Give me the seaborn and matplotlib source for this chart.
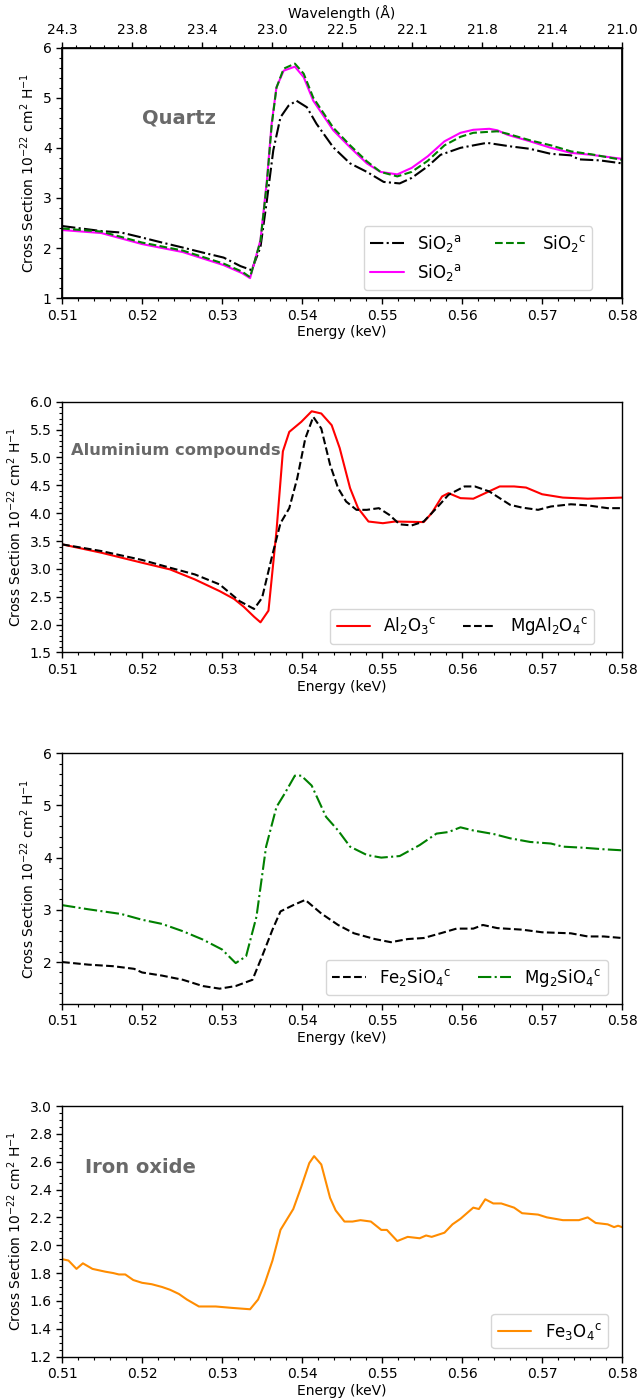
import numpy as np
import pandas as pd
import seaborn as sns
import matplotlib.pyplot as plt
from matplotlib.ticker import AutoMinorLocator, MultipleLocator

sns.set_theme(style='ticks')
plt.rcParams['font.family'] = ['DejaVu Sans']
plt.rcParams['axes.edgecolor'] = 'black'
plt.rcParams['xtick.color'] = 'black'
plt.rcParams['ytick.color'] = 'black'
plt.rcParams['axes.labelcolor'] = 'black'
plt.rcParams['text.color'] = 'black'

# %% data (energy in keV, cross section in 1e-22 cm^2 H^-1)

# Quartz
e_sio2_a1 = [0.510, 0.5149, 0.5174, 0.520, 0.5225, 0.5251, 0.5276, 0.5302, 0.5323, 0.5337,
             0.5348, 0.5356, 0.5364, 0.5373, 0.5383, 0.5393, 0.5406, 0.5418, 0.5439, 0.546,
             0.5481, 0.5502, 0.5522, 0.5537, 0.5557, 0.5573, 0.5598, 0.5631, 0.566, 0.5685,
             0.5711, 0.5736, 0.5746, 0.5772, 0.580]
v_sio2_a1 = [2.44, 2.34, 2.31, 2.21, 2.11, 2.01, 1.91, 1.81, 1.64, 1.56,
             2.02, 2.95, 3.95, 4.61, 4.84, 4.94, 4.81, 4.48, 4.01, 3.69,
             3.52, 3.32, 3.29, 3.40, 3.63, 3.86, 4.00, 4.10, 4.03, 3.98,
             3.88, 3.85, 3.77, 3.75, 3.69]

e_sio2 = [0.510, 0.5149, 0.520, 0.5251, 0.5302, 0.5325, 0.5335, 0.5348, 0.5356, 0.5362,
          0.5368, 0.5377, 0.5391, 0.5402, 0.5414, 0.5439, 0.546, 0.5481, 0.5498, 0.5519,
          0.5537, 0.5557, 0.5578, 0.5598, 0.5614, 0.5634, 0.5644, 0.5657, 0.5685, 0.5711,
          0.5736, 0.5762, 0.580]
v_sio2_a2 = [2.36, 2.30, 2.08, 1.92, 1.66, 1.50, 1.40, 2.16, 3.35, 4.49,
             5.21, 5.54, 5.62, 5.41, 4.94, 4.35, 4.01, 3.69, 3.52, 3.47,
             3.60, 3.83, 4.13, 4.30, 4.36, 4.38, 4.35, 4.26, 4.13, 4.00,
             3.90, 3.86, 3.78]
v_sio2_c = [2.39, 2.33, 2.11, 1.95, 1.69, 1.53, 1.42, 2.14, 3.30, 4.45,
            5.20, 5.58, 5.68, 5.48, 5.00, 4.40, 4.05, 3.73, 3.52, 3.43,
            3.52, 3.74, 4.05, 4.22, 4.30, 4.32, 4.33, 4.28, 4.15, 4.05,
            3.93, 3.87, 3.76]

# Aluminium compounds
e_al2o3 = [0.510, 0.5149, 0.520, 0.5235, 0.5266, 0.5297, 0.5315, 0.5327, 0.5340, 0.5348,
           0.5358, 0.5368, 0.5376, 0.5384, 0.5399, 0.5412, 0.5424, 0.5437, 0.5447, 0.546,
           0.547, 0.5483, 0.5501, 0.5516, 0.5552, 0.5562, 0.5575, 0.5583, 0.5598, 0.5614,
           0.5629, 0.5647, 0.5665, 0.568, 0.570, 0.5726, 0.5757, 0.580]
v_al2o3 = [3.44, 3.29, 3.11, 2.99, 2.81, 2.60, 2.46, 2.32, 2.14, 2.04,
           2.25, 3.68, 5.11, 5.46, 5.64, 5.83, 5.79, 5.58, 5.17, 4.45,
           4.09, 3.85, 3.82, 3.85, 3.84, 4.00, 4.30, 4.36, 4.27, 4.26,
           4.36, 4.48, 4.48, 4.46, 4.34, 4.28, 4.26, 4.28]

e_mgal2o4 = [0.510, 0.5149, 0.520, 0.5235, 0.5266, 0.5297, 0.5322, 0.534, 0.535, 0.5363,
             0.5373, 0.5384, 0.5394, 0.5404, 0.5414, 0.5424, 0.5435, 0.5445, 0.5455, 0.5468,
             0.5481, 0.5496, 0.5509, 0.5522, 0.5537, 0.5552, 0.5568, 0.5583, 0.5603, 0.5616,
             0.5634, 0.566, 0.5675, 0.5695, 0.5711, 0.5736, 0.5757, 0.5782, 0.580]
v_mgal2o4 = [3.44, 3.32, 3.16, 3.02, 2.90, 2.72, 2.42, 2.28, 2.48, 3.26,
             3.82, 4.09, 4.63, 5.34, 5.73, 5.52, 4.87, 4.45, 4.21, 4.06,
             4.06, 4.09, 3.97, 3.80, 3.78, 3.85, 4.09, 4.33, 4.48, 4.48,
             4.39, 4.15, 4.10, 4.06, 4.12, 4.16, 4.14, 4.09, 4.09]

# Silicates
e_mg2sio4 = [0.510, 0.5133, 0.5174, 0.520, 0.5225, 0.5251, 0.5276, 0.530, 0.5317, 0.533,
             0.5343, 0.5355, 0.5368, 0.5378, 0.5391, 0.5399, 0.5412, 0.543, 0.5445, 0.546,
             0.5481, 0.5499, 0.5522, 0.5547, 0.5568, 0.5583, 0.5598, 0.5614, 0.564, 0.566,
             0.5685, 0.5711, 0.5726, 0.5751, 0.5777, 0.580]
v_mg2sio4 = [3.09, 3.01, 2.92, 2.81, 2.73, 2.59, 2.43, 2.24, 1.98, 2.11,
             2.87, 4.21, 4.97, 5.22, 5.57, 5.57, 5.38, 4.78, 4.52, 4.21,
             4.05, 4.00, 4.03, 4.24, 4.46, 4.49, 4.58, 4.52, 4.45, 4.37,
             4.30, 4.27, 4.21, 4.19, 4.16, 4.14]

e_fe2sio4 = [0.510, 0.5133, 0.5164, 0.5190, 0.520, 0.5225, 0.5251, 0.5276, 0.5297, 0.5317,
             0.5338, 0.535, 0.5363, 0.5373, 0.5389, 0.5404, 0.5424, 0.5445, 0.5465, 0.5491,
             0.5511, 0.5532, 0.5552, 0.5573, 0.5593, 0.5614, 0.5626, 0.5644, 0.5675, 0.570,
             0.5736, 0.5757, 0.5777, 0.580]
v_fe2sio4 = [2.00, 1.95, 1.92, 1.87, 1.80, 1.74, 1.66, 1.54, 1.49, 1.54,
             1.66, 2.11, 2.62, 2.97, 3.09, 3.19, 2.93, 2.71, 2.55, 2.44,
             2.38, 2.44, 2.46, 2.55, 2.64, 2.64, 2.71, 2.65, 2.62, 2.57,
             2.55, 2.49, 2.49, 2.46]

# Iron oxide
e_fe3o4 = [0.510, 0.5108, 0.5118, 0.5126, 0.5138, 0.5154, 0.5164, 0.5171, 0.5179, 0.5189,
           0.520, 0.5212, 0.5225, 0.5235, 0.5246, 0.5256, 0.5271, 0.5292, 0.5312, 0.5335,
           0.5345, 0.5353, 0.5363, 0.5373, 0.5389, 0.5399, 0.5409, 0.5415, 0.5424, 0.5435,
           0.5442, 0.5453, 0.5463, 0.5473, 0.5486, 0.5499, 0.5506, 0.5519, 0.5532, 0.5547,
           0.5555, 0.5562, 0.5578, 0.5588, 0.5598, 0.5614, 0.5621, 0.5629, 0.5639, 0.5649,
           0.5665, 0.5675, 0.5695, 0.5706, 0.5726, 0.5746, 0.5757, 0.5767, 0.5782, 0.579,
           0.5795, 0.580]
v_fe3o4 = [1.90, 1.89, 1.83, 1.87, 1.83, 1.81, 1.80, 1.79, 1.79, 1.75,
           1.73, 1.72, 1.70, 1.68, 1.65, 1.61, 1.56, 1.56, 1.55, 1.54,
           1.61, 1.72, 1.89, 2.11, 2.26, 2.42, 2.59, 2.64, 2.58, 2.34,
           2.25, 2.17, 2.17, 2.18, 2.17, 2.11, 2.11, 2.03, 2.06, 2.05,
           2.07, 2.06, 2.09, 2.15, 2.19, 2.27, 2.26, 2.33, 2.30, 2.30,
           2.27, 2.23, 2.22, 2.20, 2.18, 2.18, 2.20, 2.16, 2.15, 2.13,
           2.14, 2.13]

wave_labels = ['24.3', '23.8', '23.4', '23.0', '22.5', '22.1', '21.8', '21.4', '21.0']

# %% figure

YLABEL = r'Cross Section 10$^{-22}$ cm$^2$ H$^{-1}$'
fig = plt.figure(figsize=(6.4, 14), dpi=100)
bottoms = [0.787, 0.534, 0.283, 0.031]
axes = [fig.add_axes([0.097, b, 0.875, 0.179]) for b in bottoms]


def draw(ax, e, v, color, ls, label):
    sns.lineplot(x=e, y=v, ax=ax, color=color, linestyle=ls, linewidth=1.5,
                 label=label, sort=False, estimator=None)


def style_axis(ax, ylim, ystep, fmt=None):
    ax.set_xlim(0.51, 0.58)
    ax.set_ylim(*ylim)
    ax.yaxis.set_major_locator(MultipleLocator(ystep))
    ax.xaxis.set_major_locator(MultipleLocator(0.01))
    ax.xaxis.set_minor_locator(AutoMinorLocator())
    ax.yaxis.set_minor_locator(AutoMinorLocator())
    if fmt:
        ax.yaxis.set_major_formatter(fmt)
    ax.tick_params(which='major', labelsize=10, length=4, width=1)
    ax.tick_params(which='minor', length=2, width=0.8)
    ax.set_xlabel('Energy (keV)', fontsize=10, labelpad=2)
    ax.set_ylabel(YLABEL, fontsize=10)
    for s in ax.spines.values():
        s.set_linewidth(1)
        s.set_color('black')


# Quartz
ax = axes[0]
draw(ax, e_sio2_a1, v_sio2_a1, 'black', '-.', r'SiO$_2$$^{\rm a}$')
draw(ax, e_sio2, v_sio2_a2, '#ff00ff', '-', r'SiO$_2$$^{\rm a}$')
draw(ax, e_sio2, v_sio2_c, 'green', '--', r'SiO$_2$$^{\rm c}$')
style_axis(ax, (1, 6), 1)
ax.set_yticks([1, 2, 3, 4, 5, 6])
ax.legend(loc='lower right', ncol=2, fontsize=12, bbox_to_anchor=(0.962, 0.0))
ax.text(0.209, 0.72, 'Quartz', transform=ax.transAxes, fontsize=14,
        fontweight='bold', color='dimgray', ha='center', va='center')
top = ax.twiny()
top.set_xlim(0.51, 0.58)
top.set_xticks(np.linspace(0.51, 0.58, len(wave_labels)))
top.set_xticklabels(wave_labels)
top.xaxis.set_minor_locator(AutoMinorLocator(5))
top.tick_params(which='major', labelsize=10, length=4, width=1)
top.tick_params(which='minor', length=2, width=0.8)
top.set_xlabel('Wavelength (Å)', fontsize=10, labelpad=4)

# Aluminium compounds
ax = axes[1]
draw(ax, e_al2o3, v_al2o3, 'red', '-', r'Al$_2$O$_3$$^{\rm c}$')
draw(ax, e_mgal2o4, v_mgal2o4, 'black', '--', r'MgAl$_2$O$_4$$^{\rm c}$')
style_axis(ax, (1.5, 6.0), 0.5, '{x:.1f}')
ax.legend(loc='lower right', ncol=2, fontsize=12, columnspacing=1.6,
          bbox_to_anchor=(0.965, 0.0))
ax.text(0.016, 0.805, 'Aluminium compounds', transform=ax.transAxes, fontsize=11.7,
        fontweight='bold', color='dimgray', ha='left', va='center')

# Silicates
ax = axes[2]
draw(ax, e_fe2sio4, v_fe2sio4, 'black', '--', r'Fe$_2$SiO$_4$$^{\rm c}$')
draw(ax, e_mg2sio4, v_mg2sio4, 'green', '-.', r'Mg$_2$SiO$_4$$^{\rm c}$')
style_axis(ax, (1.2, 6), 1)
ax.set_yticks([2, 3, 4, 5, 6])
ax.legend(loc='lower right', ncol=2, fontsize=12, columnspacing=1.6,
          bbox_to_anchor=(0.99, 0.0))

# Iron oxide
ax = axes[3]
draw(ax, e_fe3o4, v_fe3o4, 'darkorange', '-', r'Fe$_3$O$_4$$^{\rm c}$')
style_axis(ax, (1.2, 3.0), 0.2, '{x:.1f}')
ax.legend(loc='lower right', fontsize=12, bbox_to_anchor=(0.99, 0.0))
ax.text(0.14, 0.753, 'Iron oxide', transform=ax.transAxes, fontsize=14,
        fontweight='bold', color='dimgray', ha='center', va='center')

fig.savefig('out.png', dpi=100)
